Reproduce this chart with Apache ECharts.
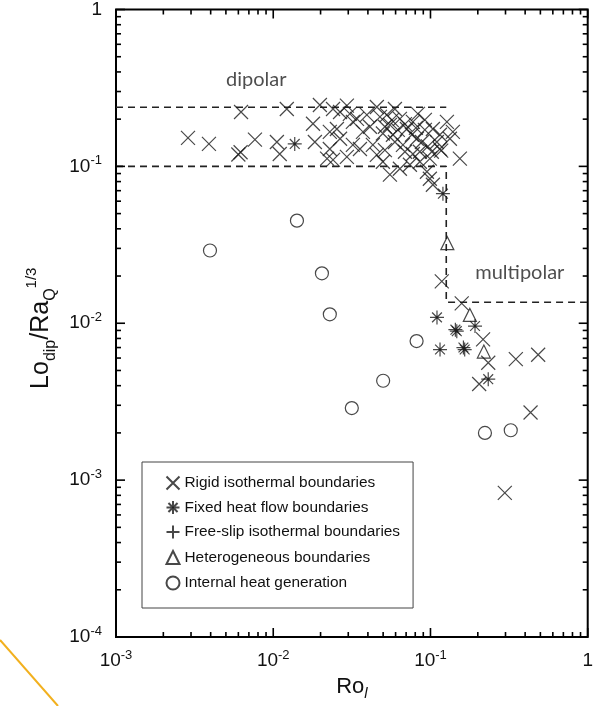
<!DOCTYPE html>
<html>
<head>
<meta charset="utf-8">
<script src="https://cdn.jsdelivr.net/npm/echarts@6/dist/echarts.min.js"></script>
<style>
    html, body { margin: 0; padding: 0; background: #fff; }
    #main { width: 596px; height: 706px; }
</style>
</head>
<body>
<div id="main"></div>
<script>
// Ro_l, Lo_dip/Ra_Q^1/3 pairs
const rigidPoints = [
    [0.00287, 0.152], [0.0039, 0.139], [0.00624, 0.222], [0.0060, 0.119], [0.0062, 0.123],
    [0.00765, 0.148], [0.01055, 0.143], [0.0110, 0.120], [0.0122, 0.232],
    [0.0198, 0.246], [0.0240, 0.232], [0.0266, 0.222], [0.0179, 0.187], [0.0229, 0.166],
    [0.0254, 0.173], [0.0321, 0.192], [0.0341, 0.201], [0.0394, 0.213], [0.0229, 0.129],
    [0.0266, 0.150], [0.0321, 0.137], [0.0356, 0.129], [0.0220, 0.112], [0.0240, 0.110],
    [0.0430, 0.137], [0.0456, 0.1185], [0.0498, 0.107], [0.0528, 0.213], [0.0552, 0.184],
    [0.0577, 0.159], [0.0639, 0.201], [0.0708, 0.173], [0.0773, 0.192], [0.0819, 0.150],
    [0.0668, 0.137], [0.0552, 0.0885], [0.0639, 0.0966], [0.0740, 0.1024], [0.0856, 0.107],
    [0.0949, 0.0924], [0.0991, 0.0834], [0.1036, 0.0764], [0.1036, 0.173], [0.1148, 0.159],
    [0.1329, 0.150], [0.1538, 0.112], [0.1148, 0.129], [0.117, 0.126], [0.0856, 0.124],
    [0.0991, 0.112], [0.1272, 0.192], [0.1388, 0.166],
    [0.0294, 0.244], [0.0456, 0.239], [0.0594, 0.232], [0.0832, 0.216], [0.0921, 0.198],
    [0.0372, 0.166], [0.0294, 0.115], [0.0412, 0.179], [0.0498, 0.162], [0.0773, 0.120],
    [0.1098, 0.143],
    [0.0477, 0.207], [0.0513, 0.179], [0.0568, 0.197], [0.0620, 0.171], [0.0688, 0.186],
    [0.0762, 0.159], [0.0808, 0.176], [0.0882, 0.143], [0.0963, 0.134], [0.0594, 0.143],
    [0.0688, 0.124], [0.0513, 0.127], [0.102, 0.124], [0.0921, 0.171], [0.0307, 0.216],
    [0.0184, 0.143],
    [0.118, 0.0185], [0.158, 0.0134], [0.216, 0.0079], [0.233, 0.0056], [0.349, 0.0059],
    [0.484, 0.0063], [0.204, 0.0041], [0.433, 0.0027], [0.297, 0.00083]
];
const fixedFluxPoints = [
    [0.0137, 0.139], [0.120, 0.067], [0.110, 0.0109], [0.147, 0.0089], [0.144, 0.0091],
    [0.192, 0.0096], [0.115, 0.0068], [0.165, 0.0068], [0.162, 0.0070], [0.233, 0.0044]
];
const freeSlipPoints = [];
const heteroPoints = [[0.128, 0.0324], [0.178, 0.0113], [0.2185, 0.0066]];
const internalHeatPoints = [
    [0.00396, 0.0291], [0.01415, 0.0451], [0.0204, 0.0208], [0.0229, 0.0114], [0.0816, 0.0077],
    [0.0500, 0.0043], [0.0316, 0.00288], [0.222, 0.00200], [0.324, 0.00208]
];

const seriesNames = [
    'Rigid isothermal boundaries',
    'Fixed heat flow boundaries',
    'Free-slip isothermal boundaries',
    'Heterogeneous boundaries',
    'Internal heat generation'
];

// regime boundaries
const dipolarTop = 0.238;
const dipolarBottom = 0.1;
const regimeRo = 0.126;
const multipolarTop = 0.0136;

const regionNames = ['dipolar', 'multipolar'];
const regionRo = [0.0078, 0.37];
const regionLo = [0.36, 0.0211];

const X_MIN = 0.001, X_MAX = 1;
const Y_MIN = 0.0001, Y_MAX = 1;
const decadesX = [0.001, 0.01, 0.1, 1];
const decadesY = [0.0001, 0.001, 0.01, 0.1, 1];
const minorFactors = [2, 3, 4, 5, 6, 7, 8, 9];

const FONT = '"Liberation Sans", Arial, sans-serif';

const SYMBOLS = {
    cross: 'path://M0,0L10,10M10,0L0,10',
    star: 'path://M5,0L5,10M0,5L10,5M1.5,1.5L8.5,8.5M8.5,1.5L1.5,8.5M4.2,4.2L5.8,4.2L5.8,5.8L4.2,5.8Z',
    plus: 'path://M5,0L5,10M0,5L10,5'
};

function tickData() {
    const out = [];
    decadesX.forEach((d, i) => {
        out.push([d, Y_MIN, 1]);
        if (i < decadesX.length - 1) minorFactors.forEach(f => out.push([d * f, Y_MIN, 0]));
    });
    decadesY.forEach((d, i) => {
        out.push([X_MIN, d, 3]);
        if (i < decadesY.length - 1) minorFactors.forEach(f => out.push([X_MIN, d * f, 2]));
    });
    return out;
}

function renderTick(params, api) {
    const kind = api.value(2);
    const len = kind % 2 ? 9 : 5;
    const style = { stroke: '#000', lineWidth: 1.6 };
    if (kind < 2) {
        const b = api.coord([api.value(0), Y_MIN]);
        const t = api.coord([api.value(0), Y_MAX]);
        return {
            type: 'group',
            children: [
                { type: 'line', shape: { x1: b[0], y1: b[1], x2: b[0], y2: b[1] - len }, style },
                { type: 'line', shape: { x1: t[0], y1: t[1], x2: t[0], y2: t[1] + len }, style }
            ]
        };
    }
    const l = api.coord([X_MIN, api.value(1)]);
    const r = api.coord([X_MAX, api.value(1)]);
    return {
        type: 'group',
        children: [
            { type: 'line', shape: { x1: l[0], y1: l[1], x2: l[0] + len, y2: l[1] }, style },
            { type: 'line', shape: { x1: r[0], y1: r[1], x2: r[0] - len, y2: r[1] }, style }
        ]
    };
}

function powerLabel(v) {
    const e = Math.round(Math.log10(v));
    if (e === 0) return '{b|1}';
    return '{b|10}{s|' + e + '}';
}

const labelRich = {
    b: { fontSize: 19, lineHeight: 24, fontFamily: FONT, color: '#111' },
    s: { fontSize: 13, lineHeight: 13, verticalAlign: 'top', fontFamily: FONT, color: '#111' }
};

function dashed(points) {
    return {
        type: 'line',
        data: points,
        symbol: 'none',
        silent: true,
        z: 1,
        lineStyle: { color: '#222', width: 1.6, type: [7, 5] }
    };
}

function scatter(name, data, symbol, size, fill) {
    return {
        name: name,
        type: 'scatter',
        data: data,
        symbol: symbol,
        symbolSize: size,
        z: 3,
        itemStyle: { color: fill, borderColor: '#1a1a1a', borderWidth: 1.2 }
    };
}

const chart = echarts.init(document.getElementById('main'));

const option = {
    animation: false,
    grid: {
        left: 116, right: 8, top: 7, bottom: 69,
        show: true, borderColor: '#000', borderWidth: 2
    },
    xAxis: {
        type: 'log',
        logBase: 10,
        min: X_MIN,
        max: X_MAX,
        name: '{a|Ro}{sub|l}',
        nameLocation: 'middle',
        nameGap: 36,
        nameTextStyle: {
            rich: {
                a: { fontSize: 22, lineHeight: 28, fontFamily: FONT, color: '#111' },
                sub: { fontSize: 15, lineHeight: 14, verticalAlign: 'bottom', fontStyle: 'italic', fontFamily: FONT, color: '#111' }
            }
        },
        axisLine: { show: false },
        axisTick: { show: false },
        splitLine: { show: false },
        axisLabel: { margin: 12, formatter: powerLabel, rich: labelRich }
    },
    yAxis: {
        type: 'log',
        logBase: 10,
        min: Y_MIN,
        max: Y_MAX,
        name: '{a|Lo}{sub|dip}{a|/Ra}{sub|Q}{sup|1/3}',
        nameLocation: 'middle',
        nameRotate: 90,
        nameGap: 50,
        nameTextStyle: {
            rich: {
                a: { fontSize: 25, lineHeight: 34, fontFamily: FONT, color: '#111' },
                sub: { fontSize: 16, lineHeight: 15, verticalAlign: 'bottom', fontFamily: FONT, color: '#111' },
                sup: { fontSize: 15, lineHeight: 14, verticalAlign: 'top', padding: [0, 10, 0, 0], fontFamily: FONT, color: '#111' }
            }
        },
        axisLine: { show: false },
        axisTick: { show: false },
        splitLine: { show: false },
        axisLabel: { margin: 14, formatter: powerLabel, rich: labelRich }
    },
    legend: {
        orient: 'vertical',
        left: 142,
        top: 462,
        selectedMode: false,
        borderColor: '#444',
        borderWidth: 1,
        padding: [12, 13, 16, 22],
        itemGap: 7.5,
        itemWidth: 13,
        itemHeight: 13,
        itemStyle: { borderWidth: 2 },
        textStyle: { fontSize: 15.4, lineHeight: 16, fontFamily: FONT, color: '#111' },
        data: seriesNames
    },
    series: [
        {
            type: 'custom',
            data: tickData(),
            renderItem: renderTick,
            silent: true,
            z: 5
        },
        dashed([[X_MIN, dipolarTop], [regimeRo, dipolarTop]]),
        dashed([[X_MIN, dipolarBottom], [regimeRo, dipolarBottom], [regimeRo, multipolarTop], [X_MAX, multipolarTop]]),
        scatter(seriesNames[0], rigidPoints, SYMBOLS.cross, 14, 'none'),
        scatter(seriesNames[1], fixedFluxPoints, SYMBOLS.star, 14, '#1a1a1a'),
        scatter(seriesNames[2], freeSlipPoints, SYMBOLS.plus, 14, 'none'),
        scatter(seriesNames[3], heteroPoints, 'triangle', 13, 'none'),
        scatter(seriesNames[4], internalHeatPoints, 'circle', 13, 'none'),
        {
            type: 'scatter',
            data: regionNames.map((n, i) => ({ name: n, value: [regionRo[i], regionLo[i]] })),
            symbolSize: 0,
            silent: true,
            label: {
                show: true,
                position: 'inside',
                formatter: '{b}',
                fontSize: 20,
                fontFamily: 'Lato, "Open Sans", sans-serif',
                color: '#222'
            }
        }
    ],
    graphic: [{
        type: 'line',
        shape: { x1: 0, y1: 640, x2: 58, y2: 706 },
        style: { stroke: '#F2B01E', lineWidth: 2 }
    }]
};

chart.setOption(option);
</script>
</body>
</html>
